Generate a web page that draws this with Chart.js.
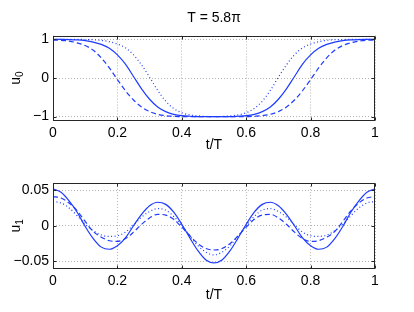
<!DOCTYPE html>
<html>
<head>
<meta charset="utf-8">
<script src="https://cdn.jsdelivr.net/npm/chart.js@4.4.0/dist/chart.umd.min.js"></script>
<style>
  html, body { margin: 0; padding: 0; background: #fff; }
  #wrap { position: relative; width: 414px; height: 312px; }
  canvas { position: absolute; left: 0; }
</style>
</head>
<body>
<div id="wrap">
  <canvas id="topChart" width="414" height="160" style="top:0px"></canvas>
  <canvas id="botChart" width="414" height="152" style="top:160px"></canvas>
</div>
<script>
// sample points t/T
const tVals = [0, 0.025, 0.05, 0.075, 0.1, 0.125, 0.15, 0.175, 0.2, 0.225, 0.25, 0.275, 0.3, 0.325, 0.35, 0.375, 0.4, 0.425, 0.45, 0.475, 0.5,
  0.525, 0.55, 0.575, 0.6, 0.625, 0.65, 0.675, 0.7, 0.725, 0.75, 0.775, 0.8, 0.825, 0.85, 0.875, 0.9, 0.925, 0.95, 0.975, 1];

// u0 (top panel)
const u0Solid = [1.0, 1.0, 0.995, 0.985, 0.965, 0.93, 0.87, 0.77, 0.60, 0.36, 0.04, -0.28, -0.55, -0.75, -0.87, -0.94, -0.975, -0.99, -1.0, -1.0, -1.0,
  -1.0, -1.0, -0.99, -0.975, -0.94, -0.87, -0.75, -0.55, -0.28, 0.04, 0.36, 0.60, 0.77, 0.87, 0.93, 0.965, 0.985, 0.995, 1.0, 1.0];
const u0Dashed = [0.98, 0.975, 0.955, 0.91, 0.84, 0.72, 0.52, 0.26, -0.04, -0.33, -0.57, -0.75, -0.87, -0.94, -0.975, -0.99, -1.0, -1.0, -1.0, -1.0, -1.0,
  -1.0, -1.0, -1.0, -1.0, -0.99, -0.975, -0.94, -0.87, -0.75, -0.57, -0.33, -0.04, 0.26, 0.52, 0.72, 0.84, 0.91, 0.955, 0.975, 0.98];
const u0Dotted = [1.0, 1.0, 1.0, 1.0, 0.995, 0.99, 0.975, 0.94, 0.88, 0.78, 0.60, 0.34, 0.02, -0.32, -0.60, -0.79, -0.90, -0.955, -0.98, -0.995, -1.0,
  -0.995, -0.98, -0.955, -0.90, -0.79, -0.60, -0.32, 0.02, 0.34, 0.60, 0.78, 0.88, 0.94, 0.975, 0.99, 0.995, 1.0, 1.0, 1.0, 1.0];

// u1 (bottom panel)
const u1Solid = [0.052, 0.047, 0.035, 0.019, -0.001, -0.018, -0.030, -0.033, -0.028, -0.017, 0.000, 0.016, 0.028, 0.033, 0.030, 0.019, 0.002, -0.017, -0.035, -0.048, -0.052,
  -0.048, -0.035, -0.017, 0.002, 0.019, 0.030, 0.033, 0.028, 0.016, 0.000, -0.017, -0.028, -0.033, -0.030, -0.018, -0.001, 0.019, 0.035, 0.047, 0.052];
const u1Dashed = [0.041, 0.039, 0.032, 0.021, 0.006, -0.008, -0.016, -0.021, -0.022, -0.018, -0.009, 0.002, 0.011, 0.016, 0.015, 0.009, -0.002, -0.014, -0.025, -0.032, -0.034,
  -0.032, -0.025, -0.014, -0.002, 0.009, 0.015, 0.016, 0.011, 0.002, -0.009, -0.018, -0.022, -0.021, -0.016, -0.008, 0.006, 0.021, 0.032, 0.039, 0.041];
const u1Dotted = [0.034, 0.032, 0.025, 0.014, 0.002, -0.007, -0.013, -0.015, -0.014, -0.009, 0.001, 0.012, 0.020, 0.024, 0.022, 0.013, 0.000, -0.014, -0.028, -0.037, -0.041,
  -0.037, -0.028, -0.014, 0.000, 0.013, 0.022, 0.024, 0.020, 0.012, 0.001, -0.009, -0.014, -0.015, -0.013, -0.007, 0.002, 0.014, 0.025, 0.032, 0.034];

// ticks and labels
const xTicks = [0, 0.2, 0.4, 0.6, 0.8, 1];
const u0Ticks = [-1, 0, 1];
const u1Ticks = [-0.05, 0, 0.05];
const titleText = 'T = 5.8\u03c0';
const xLabel = 't/T';
const u0Label = ['u', '0'];   // letter, subscript
const u1Label = ['u', '1'];

const lineColor = 'rgb(30,60,255)';
const gridColor = '#b4b4b4';
const txtFont = { family: 'Liberation Sans', size: 14 };

function fmt(v){
  return String(v).replace('-', '\u2212');
}

function lineSet(values, dash){
  return {
    data: tVals.map((t, i) => ({ x: t, y: values[i] })),
    borderColor: lineColor,
    borderWidth: 1.2,
    borderDash: dash,
    pointRadius: 0,
    fill: false,
    cubicInterpolationMode: 'monotone'
  };
}

// box around the axes with inward ticks (matlab style)
const boxPlugin = {
  id: 'box',
  afterDatasetsDraw(chart){
    const { ctx, chartArea: a, scales } = chart;
    const l = Math.round(a.left) + 0.5, r = Math.round(a.right) - 0.5;
    const t = Math.round(a.top) + 0.5, b = Math.round(a.bottom) - 0.5;
    ctx.save();
    ctx.strokeStyle = '#262626';
    ctx.lineWidth = 1;
    ctx.strokeRect(l, t, r - l, b - t);
    ctx.beginPath();
    scales.x.ticks.forEach(tk => {
      const px = Math.round(scales.x.getPixelForValue(tk.value)) + 0.5;
      ctx.moveTo(px, b); ctx.lineTo(px, b - 3);
      ctx.moveTo(px, t); ctx.lineTo(px, t + 3);
    });
    scales.y.ticks.forEach(tk => {
      const py = Math.round(scales.y.getPixelForValue(tk.value)) + 0.5;
      ctx.moveTo(l, py); ctx.lineTo(l + 3, py);
      ctx.moveTo(r, py); ctx.lineTo(r - 3, py);
    });
    ctx.stroke();
    ctx.restore();
  }
};

// y label with a real subscript, rotated like the axis title
const yLabelPlugin = {
  id: 'ylabel',
  afterDraw(chart, args, opts){
    const { ctx, chartArea: a } = chart;
    const [main, sub] = opts.text;
    ctx.save();
    ctx.translate(20, (a.top + a.bottom) / 2);
    ctx.rotate(-Math.PI / 2);
    ctx.fillStyle = '#000';
    ctx.textBaseline = 'alphabetic';
    ctx.textAlign = 'left';
    ctx.font = '14px "Liberation Sans"';
    const w1 = ctx.measureText(main).width;
    ctx.font = '10px "Liberation Sans"';
    const w2 = ctx.measureText(sub).width;
    const x0 = -(w1 + w2) / 2;
    ctx.font = '14px "Liberation Sans"';
    ctx.fillText(main, x0, 0);
    ctx.font = '10px "Liberation Sans"';
    ctx.fillText(sub, x0 + w1, 3);
    ctx.restore();
  }
};

function makeChart(id, series, yMin, yMax, yTicks, yLabel, cfg){
  return new Chart(document.getElementById(id), {
    type: 'line',
    data: {
      datasets: [
        lineSet(series[2], [1, 2.5]),
        lineSet(series[1], [5, 3]),
        lineSet(series[0], [])
      ]
    },
    options: {
      responsive: false,
      animation: false,
      layout: { padding: { left: 0, right: 39, top: cfg.padTop, bottom: 0 } },
      plugins: {
        legend: { display: false },
        tooltip: { enabled: false },
        ylabel: { text: yLabel },
        title: cfg.title ? {
          display: true, text: cfg.title, fullSize: false, color: '#000',
          font: { family: 'Liberation Sans', size: 14, weight: 'normal' },
          padding: { top: 10.2, bottom: 8.5 }
        } : { display: false }
      },
      scales: {
        x: {
          type: 'linear', min: 0, max: 1,
          afterBuildTicks: s => { s.ticks = xTicks.map(v => ({ value: v })); },
          afterFit: s => { s.height = cfg.xHeight; },
          ticks: { padding: 4, color: '#000', font: txtFont, maxRotation: 0, callback: fmt },
          grid: { color: gridColor, drawTicks: false, lineWidth: 1 },
          border: { display: false, dash: [1, 2] },
          title: { display: true, text: xLabel, color: '#000', font: txtFont, padding: { top: 0, bottom: cfg.xTitlePad } }
        },
        y: {
          type: 'linear', min: yMin, max: yMax,
          afterBuildTicks: s => { s.ticks = yTicks.map(v => ({ value: v })); },
          afterFit: s => { s.width = 53; },
          ticks: { padding: 4, color: '#000', font: txtFont, callback: fmt },
          grid: { color: gridColor, drawTicks: false, lineWidth: 1 },
          border: { display: false, dash: [1, 2] }
        }
      }
    },
    plugins: [boxPlugin, yLabelPlugin]
  });
}

makeChart('topChart', [u0Solid, u0Dashed, u0Dotted], -1.1, 1.1, u0Ticks, u0Label,
  { title: titleText, padTop: 0, xHeight: 39.5, xTitlePad: 6.6 });
makeChart('botChart', [u1Solid, u1Dashed, u1Dotted], -0.06, 0.06, u1Ticks, u1Label,
  { title: null, padTop: 23, xHeight: 43.5, xTitlePad: 8.6 });
</script>
</body>
</html>
